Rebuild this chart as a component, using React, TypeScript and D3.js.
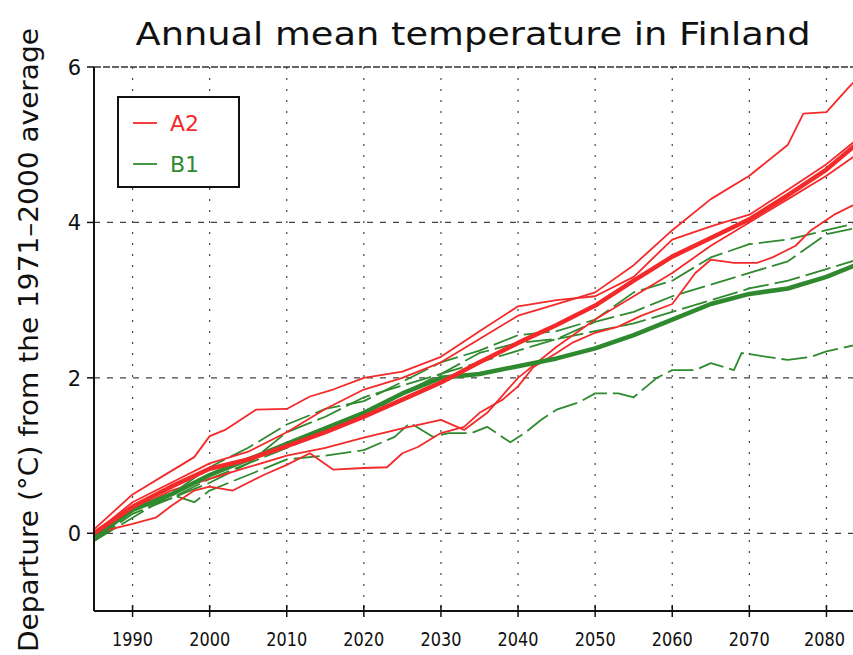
import React from "react";
import * as d3 from "d3";

// chart size
const W = 853;
const H = 655;

// axis ticks
const xTicks = [1990, 2000, 2010, 2020, 2030, 2040, 2050, 2060, 2070, 2080];
const yTicks = [0, 2, 4, 6];

// A2 scenario: ensemble mean and single model runs ([year, departure])
const a2Mean = [
  [1985, 0], [1990, 0.34], [1995, 0.6], [2000, 0.83], [2005, 0.95], [2010, 1.12],
  [2015, 1.3], [2020, 1.5], [2025, 1.72], [2030, 1.94], [2035, 2.2], [2040, 2.45],
  [2045, 2.68], [2050, 2.93], [2055, 3.25], [2060, 3.56], [2065, 3.8], [2070, 4.04],
  [2075, 4.35], [2080, 4.68], [2085, 5.1],
];
const a2RunA = [
  [1985, 0.05], [1990, 0.5], [1995, 0.8], [1998, 0.98], [2000, 1.25], [2002, 1.33],
  [2006, 1.59], [2010, 1.6], [2013, 1.76], [2016, 1.85], [2020, 2.0], [2025, 2.08],
  [2030, 2.27], [2035, 2.6], [2040, 2.92], [2045, 3.0], [2050, 3.05], [2055, 3.3],
  [2060, 3.78], [2065, 3.95], [2070, 4.1], [2075, 4.42], [2080, 4.75], [2085, 5.15],
];
const a2RunB = [
  [1985, 0], [1990, 0.4], [1995, 0.65], [2000, 0.9], [2005, 1.05], [2010, 1.3],
  [2015, 1.6], [2020, 1.85], [2025, 2.0], [2030, 2.2], [2035, 2.5], [2040, 2.8],
  [2045, 2.95], [2050, 3.1], [2055, 3.45], [2060, 3.9], [2065, 4.3], [2070, 4.6],
  [2075, 5.0], [2077, 5.4], [2080, 5.42], [2083, 5.75], [2085, 5.95],
];
const a2RunC = [
  [1985, 0], [1990, 0.3], [1995, 0.55], [2000, 0.7], [2005, 0.85], [2010, 1.0],
  [2015, 1.1], [2020, 1.23], [2025, 1.35], [2030, 1.46], [2033, 1.33], [2036, 1.55],
  [2040, 2.0], [2045, 2.4], [2050, 2.75], [2055, 3.05], [2060, 3.35], [2065, 3.7],
  [2070, 4.0], [2075, 4.3], [2080, 4.6], [2085, 4.95],
];
const a2RunD = [
  [1985, 0], [1990, 0.12], [1993, 0.2], [1995, 0.35], [1998, 0.55], [2000, 0.6],
  [2003, 0.55], [2007, 0.75], [2010, 0.88], [2013, 1.03], [2016, 0.82], [2020, 0.84],
  [2023, 0.85], [2025, 1.03], [2027, 1.11], [2030, 1.29], [2033, 1.37], [2035, 1.55],
  [2038, 1.72], [2040, 1.89], [2042, 2.14], [2045, 2.32], [2047, 2.45], [2050, 2.58],
  [2053, 2.66], [2056, 2.8], [2060, 2.95], [2063, 3.35], [2065, 3.52], [2068, 3.48],
  [2071, 3.48], [2073, 3.55], [2076, 3.7], [2078, 3.9], [2081, 4.1], [2085, 4.3],
];

// B1 scenario
const b1Mean = [
  [1985, -0.05], [1990, 0.3], [1995, 0.5], [2000, 0.75], [2005, 0.95], [2010, 1.15],
  [2015, 1.35], [2020, 1.55], [2025, 1.8], [2030, 2.0], [2035, 2.05], [2040, 2.15],
  [2045, 2.25], [2050, 2.38], [2055, 2.55], [2060, 2.75], [2065, 2.95], [2070, 3.08],
  [2075, 3.15], [2080, 3.3], [2085, 3.5],
];
const b1RunA = [
  [1985, -0.05], [1990, 0.35], [1995, 0.5], [2000, 0.85], [2005, 1.1], [2010, 1.4],
  [2015, 1.6], [2020, 1.7], [2025, 1.95], [2030, 2.2], [2035, 2.35], [2040, 2.55],
  [2045, 2.6], [2050, 2.75], [2055, 3.1], [2060, 3.25], [2065, 3.55], [2070, 3.72],
  [2075, 3.78], [2080, 3.9], [2085, 4.02],
];
const b1RunB = [
  [1985, -0.1], [1990, 0.3], [1995, 0.45], [2000, 0.7], [2005, 0.9], [2010, 1.1],
  [2015, 1.3], [2020, 1.5], [2025, 1.8], [2030, 2.05], [2035, 2.2], [2040, 2.35],
  [2045, 2.5], [2050, 2.72], [2055, 2.85], [2060, 3.05], [2065, 3.2], [2070, 3.35],
  [2075, 3.5], [2080, 3.85], [2085, 3.95],
];
const b1RunC = [
  [1985, -0.1], [1990, 0.2], [1995, 0.5], [1998, 0.4], [2000, 0.55], [2005, 0.75],
  [2010, 0.95], [2015, 1.0], [2020, 1.07], [2024, 1.24], [2026, 1.42], [2029, 1.24],
  [2031, 1.29], [2034, 1.29], [2036, 1.37], [2039, 1.17], [2041, 1.3], [2043, 1.46],
  [2045, 1.59], [2048, 1.69], [2050, 1.8], [2053, 1.8], [2055, 1.75], [2058, 2.0],
  [2060, 2.1], [2063, 2.1], [2065, 2.19], [2068, 2.1], [2069, 2.32], [2073, 2.26],
  [2075, 2.23], [2078, 2.27], [2080, 2.34], [2085, 2.45],
];
const b1RunD = [
  [1985, -0.1], [1990, 0.25], [1995, 0.45], [2000, 0.65], [2005, 0.9], [2010, 1.3],
  [2015, 1.5], [2020, 1.75], [2025, 1.9], [2030, 2.05], [2035, 2.32], [2040, 2.45],
  [2045, 2.5], [2050, 2.6], [2055, 2.7], [2060, 2.85], [2065, 3.0], [2070, 3.15],
  [2075, 3.25], [2080, 3.4], [2085, 3.55],
];

const RED = "#f42a2a";
const GREEN = "#2f8a2f";
const FONT = "'DejaVu Sans', sans-serif";

const App = () => {
  // plot area
  const left = 94;
  const bottom = 611;
  const top = 67;

  const x = d3.scaleLinear().domain([1985, 2085]).range([left, left + 771]);
  const y = d3.scaleLinear().domain([-1, 6]).range([bottom, top]);

  const line = d3
    .line<number[]>()
    .x((d) => x(d[0]))
    .y((d) => y(d[1]));

  return (
    <svg width={W} height={H} style={{ position: "absolute", left: 0, top: 0, background: "#fff" }}>
      <defs>
        <clipPath id="plot">
          <rect x={left} y={top - 10} width={W - left} height={bottom - top + 10} />
        </clipPath>
      </defs>

      {/* grid */}
      {xTicks.map((t) => (
        <line key={"gx" + t} x1={x(t)} x2={x(t)} y1={top} y2={bottom}
          stroke="#444" strokeWidth={1.2} strokeDasharray="2 9" />
      ))}
      {yTicks.filter((t) => t < 6).map((t) => (
        <line key={"gy" + t} x1={left} x2={W} y1={y(t)} y2={y(t)}
          stroke="#444" strokeWidth={1.2} strokeDasharray="6 7" />
      ))}
      <line x1={left} x2={W} y1={y(6)} y2={y(6)} stroke="#333" strokeWidth={1.5} strokeDasharray="7 2" />

      {/* series */}
      <g clipPath="url(#plot)" fill="none" strokeLinejoin="round">
        {[b1RunA, b1RunB, b1RunC, b1RunD].map((s, i) => (
          <path key={"b" + i} d={line(s) || ""} stroke={GREEN} strokeWidth={1.8} strokeDasharray="26 6" />
        ))}
        {[a2RunA, a2RunB, a2RunC, a2RunD].map((s, i) => (
          <path key={"a" + i} d={line(s) || ""} stroke={RED} strokeWidth={1.8} />
        ))}
        <path d={line(b1Mean) || ""} stroke={GREEN} strokeWidth={4.5} />
        <path d={line(a2Mean) || ""} stroke={RED} strokeWidth={4.5} />
      </g>

      {/* axes */}
      <line x1={left} x2={left} y1={top} y2={bottom} stroke="#111" strokeWidth={2} />
      <line x1={left} x2={W} y1={bottom} y2={bottom} stroke="#111" strokeWidth={2} />
      {xTicks.map((t, i) => {
        const last = i === xTicks.length - 1;
        return (
          <g key={"tx" + t}>
            <line x1={x(t)} x2={x(t)} y1={bottom - 6} y2={bottom + 6} stroke="#111" strokeWidth={1.5} />
            <text x={last ? W - 8 : x(t)} y={646} textAnchor={last ? "end" : "middle"}
              fontFamily={FONT} fontSize={19} textLength={41} lengthAdjust="spacingAndGlyphs"
              fill="#111">{t}</text>
          </g>
        );
      })}
      {yTicks.map((t) => (
        <g key={"ty" + t}>
          <line x1={left - 7} x2={left} y1={y(t)} y2={y(t)} stroke="#111" strokeWidth={1.5} />
          <text x={left - 13} y={y(t) + 8} textAnchor="end" fontFamily={FONT} fontSize={21} fill="#111">
            {t}
          </text>
        </g>
      ))}

      {/* title and axis label */}
      <text x={473} y={45} textAnchor="middle" fontFamily={FONT} fontSize={32}
        textLength={675} lengthAdjust="spacingAndGlyphs" fill="#111">
        Annual mean temperature in Finland
      </text>
      <text transform="translate(38,340) rotate(-90)" textAnchor="middle" fontFamily={FONT}
        fontSize={27} textLength={624} lengthAdjust="spacingAndGlyphs" fill="#111">
        Departure (°C) from the 1971–2000 average
      </text>

      {/* legend */}
      <rect x={118} y={97} width={121} height={90} fill="#fff" stroke="#111" strokeWidth={2} />
      <line x1={133} x2={157} y1={123} y2={123} stroke={RED} strokeWidth={1.8} />
      <text x={170} y={131} fontFamily={FONT} fontSize={22} fill={RED}>A2</text>
      <line x1={133} x2={157} y1={164} y2={164} stroke={GREEN} strokeWidth={1.8} />
      <text x={170} y={172} fontFamily={FONT} fontSize={22} fill={GREEN}>B1</text>
    </svg>
  );
};

export default App;
